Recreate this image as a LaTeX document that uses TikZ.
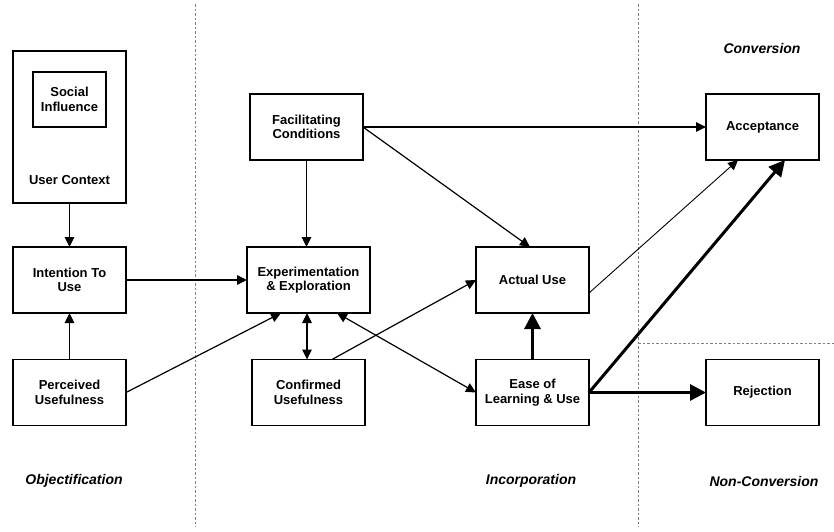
\documentclass[tikz,border=0pt]{standalone}
\usepackage{fontspec}
\setmainfont{Liberation Sans}
\usetikzlibrary{arrows.meta,calc}
\begin{document}
\begin{tikzpicture}[x=1pt,y=-1pt,
  box/.style={draw, line width=1.2pt, outer sep=0pt, minimum width=113pt, minimum height=66pt,
    align=center, font=\fontsize{13}{14.5}\selectfont\bfseries},
  phase/.style={font=\fontsize{14}{16}\selectfont\bfseries\itshape},
  link/.style={line width=1.2pt, -{Triangle[length=10pt,width=9.5pt]}},
  both/.style={line width=1.2pt, {Triangle[length=10pt,width=9.5pt]}-{Triangle[length=10pt,width=9.5pt]}},
  strong/.style={line width=3pt, -{Triangle[length=16pt,width=16pt]}},
  divider/.style={draw=gray, line width=0.9pt, dash pattern=on 2.5pt off 2pt}]
\useasboundingbox (0,0) rectangle (834,531);

% phase dividers
\draw[divider] (195,4) -- (195,527);
\draw[divider] (638,4) -- (638,527);
\draw[divider] (638,343) -- (834,343);

% phase labels
\node[phase] (conv) at (762,48) {Conversion};
\node[phase] (obj) at (74,481) {Objectification};
\node[phase] (inc) at (531,481) {Incorporation};
\node[phase] (nonconv) at (764,481) {Non-Conversion};

% user context with nested social influence
\node[box, minimum height=152pt] (ctx) at (69.5,127) {};
\node[box, minimum width=73pt, minimum height=55pt] (soc) at (69.5,99.5) {Social\\Influence};
\node[font=\fontsize{13}{14.5}\selectfont\bfseries] (ctxlabel) at (69.5,180) {User Context};

% construct boxes
\node[box] (int) at (69.5,280) {Intention To\\Use};
\node[box] (pu) at (69.5,392.5) {Perceived\\Usefulness};
\node[box] (fc) at (306.5,127) {Facilitating\\Conditions};
\node[box, minimum width=123pt] (exp) at (308.5,280) {Experimentation\\\& Exploration};
\node[box] (cu) at (308.5,392.5) {Confirmed\\Usefulness};
\node[box] (au) at (532.5,280) {Actual Use};
\node[box] (ease) at (532.5,392.5) {Ease of\\Learning \& Use};
\node[box] (acc) at (762.5,127) {Acceptance};
\node[box] (rej) at (762.5,392.5) {Rejection};

% connectors
\draw[link] (ctx.south) -- (int.north);
\draw[link] (pu.north) -- (int.south);
\draw[link] (int.east) -- (exp.west);
\draw[link] (pu.east) -- ($(exp.south west)+(34,0)$);
\draw[link] (fc.south) -- (fc.south |- exp.north);
\draw[both] ($(exp.south west)+(60,0)$) -- ($(cu.north west)+(55,0)$);
\draw[link] ($(cu.north west)+(80,0)$) -- (au.west);
\draw[both] ($(exp.south west)+(90,0)$) -- (ease.west);
\draw[link] (fc.east) -- (acc.west);
\draw[link] (fc.east) -- ($(au.north west)+(54,0)$);
\draw[line width=0.9pt, -{Triangle[length=10pt,width=9.5pt]}] ($(au.south east)+(0,-20)$) -- ($(acc.south west)+(32,0)$);
\draw[strong] (ease.north) -- (au.south);
\draw[strong] (ease.east) -- ($(acc.south west)+(79,0)$);
\draw[strong] (ease.east) -- (rej.west);
\end{tikzpicture}
\end{document}
